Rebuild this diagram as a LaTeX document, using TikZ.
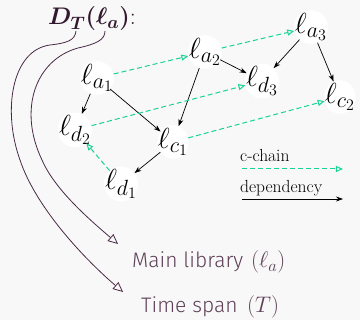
\RequirePackage{fix-cm}
\documentclass[tikz,border=0pt]{standalone}
\usepackage{fontspec}
\usepackage{amsmath}
\usepackage{bm}
\newfontfamily\firafont{Fira Sans Light}
\usetikzlibrary{shapes.geometric,arrows.meta}
\DeclareMathSizes{29}{29}{22}{16}
\DeclareMathSizes{24}{24}{18}{13}
\DeclareMathSizes{22.5}{22.5}{16.5}{12}
\definecolor{bgc}{HTML}{F8F8F8}
\definecolor{cgreen}{HTML}{19D296}
\definecolor{curvec}{HTML}{4A2A45}
\definecolor{labc}{HTML}{5E4058}
\definecolor{titc}{HTML}{33182F}
\tikzset{
  lib/.style={ellipse, fill=white, inner xsep=-4pt, inner ysep=-2pt, font=\fontsize{29}{32}\selectfont},
  dep/.style={-{Stealth[length=7pt,width=5pt]}, line width=0.7pt, draw=black},
  chain/.style={dash pattern=on 5pt off 3pt, -{Triangle[open,length=7pt,width=6pt]}, draw=cgreen, line width=1pt},
  brace/.style={draw=curvec, line width=0.8pt, -{Triangle[open,length=10pt,width=9pt]}},
  lbl/.style={anchor=base west, inner sep=0pt, text=labc, font=\firafont\fontsize{21}{24}\selectfont},
  lblm/.style={anchor=base west, inner sep=0pt, text=labc, font=\fontsize{22.5}{24}\selectfont},
  leg/.style={anchor=base west, font=\fontsize{17.5}{19}\selectfont, inner sep=0pt}
}
\begin{document}
\begin{tikzpicture}[x=1pt,y=-1pt]
\fill[bgc] (0,0) rectangle (360,320);
\useasboundingbox (0,0) rectangle (360,320);

% title
\node[anchor=base, inner sep=0pt, text=titc, font=\fontsize{24}{26}\selectfont] (dt) at (92,25) {$\bm{D_T(\ell_a)}$:};

% library nodes
\node[lib] (a1) at (97,78) {$\ell_{a_1}$};
\node[lib] (a2) at (205,52) {$\ell_{a_2}$};
\node[lib] (a3) at (311,27) {$\ell_{a_3}$};
\node[lib] (d2) at (75,130) {$\ell_{d_2}$};
\node[lib] (d3) at (262,81) {$\ell_{d_3}$};
\node[lib] (c1) at (173,142) {$\ell_{c_1}$};
\node[lib] (c2) at (340,97) {$\ell_{c_2}$};
\node[lib] (d1) at (121,184) {$\ell_{d_1}$};

% dependencies
\draw[dep] (a1) -- (d2);
\draw[dep] (a1) -- (c1);
\draw[dep] (a2) -- (c1);
\draw[dep] (a2) -- (d3);
\draw[dep] (a3) -- (d3);
\draw[dep] (a3) -- (c2);
\draw[dep] (c1) -- (d1);

% c-chains
\draw[chain] (a1) -- (a2);
\draw[chain] (a2) -- (a3);
\draw[chain] (d2) -- (d3);
\draw[chain] (c1) -- (c2);
\draw[chain] (d1) -- (d2);

% legend
\node[leg] (lc) at (240,162) {c-chain};
\coordinate (lcs) at (242,169);
\coordinate (lce) at (343,169);
\draw[chain] (lcs) -- (lce);
\node[leg] (ld) at (240,193) {dependency};
\coordinate (lds) at (242,199);
\coordinate (lde) at (343,199);
\draw[dep] (lds) -- (lde);

% labels
\node[lbl] (ml) at (132,268) {Main library};
\node[lblm] (mlm) at (251,268) {$(\ell_a)$};
\node[lbl] (ts) at (141,313) {Time span};
\node[lblm] (tsm) at (247,313) {$(T)$};

% curves
\coordinate (sT) at (76,31);
\coordinate (sA) at (105,31);
\coordinate (eT) at (123,292);
\coordinate (eA) at (118,244);
\draw[brace] (sT) .. controls (75,40) and (68,43) .. (50,45)
  .. controls (12,50) and (2,110) .. (20,160)
  .. controls (35,205) and (80,255) .. (eT);
\draw[brace] (sA) .. controls (105,40) and (96,44) .. (78,48)
  .. controls (35,60) and (18,110) .. (42,160)
  .. controls (55,190) and (90,220) .. (eA);
\end{tikzpicture}
\end{document}
